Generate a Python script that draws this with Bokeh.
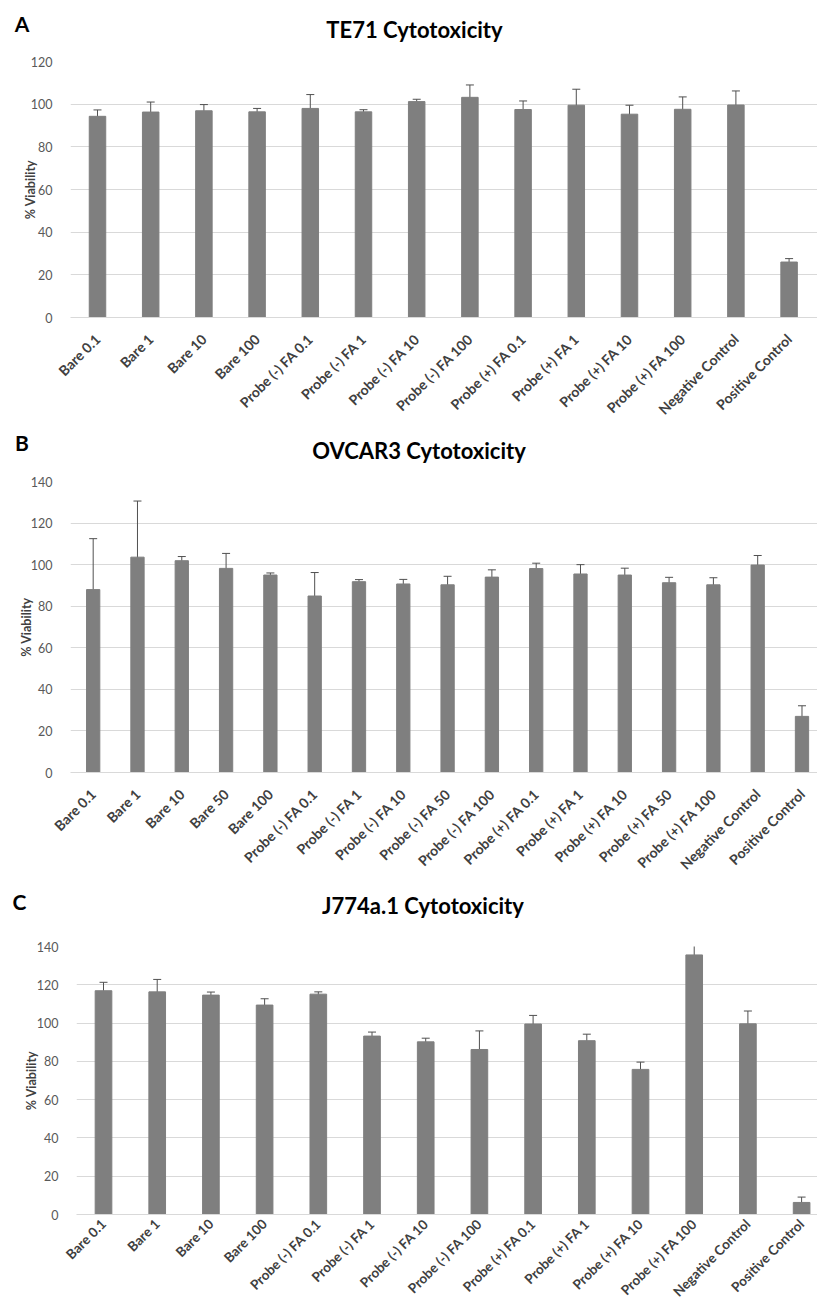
import math
from bokeh.plotting import figure
from bokeh.models import ColumnDataSource, Whisker, TeeHead, Label, Range1d, FixedTicker
from bokeh.embed import file_html
from bokeh.resources import INLINE

# ---------------- data ----------------
A_title = "TE71 Cytotoxicity"
A_cats = ["Bare 0.1", "Bare 1", "Bare 10", "Bare 100",
          "Probe (-) FA 0.1", "Probe (-) FA 1", "Probe (-) FA 10", "Probe (-) FA 100",
          "Probe (+) FA 0.1", "Probe (+) FA 1", "Probe (+) FA 10", "Probe (+) FA 100",
          "Negative Control", "Positive Control"]
A_vals = [94.3, 96.3, 96.9, 96.4, 98.0, 96.4, 101.2, 103.2, 97.5, 99.5, 95.3, 97.6, 99.6, 26.0]
A_err = [3.0, 4.7, 2.9, 1.6, 6.5, 1.0, 1.1, 5.8, 4.0, 7.5, 4.2, 5.8, 6.6, 1.6]
A_yticks = [0, 20, 40, 60, 80, 100, 120]

B_title = "OVCAR3 Cytotoxicity"
B_cats = ["Bare 0.1", "Bare 1", "Bare 10", "Bare 50", "Bare 100",
          "Probe (-) FA 0.1", "Probe (-) FA 1", "Probe (-) FA 10", "Probe (-) FA 50", "Probe (-) FA 100",
          "Probe (+) FA 0.1", "Probe (+) FA 1", "Probe (+) FA 10", "Probe (+) FA 50", "Probe (+) FA 100",
          "Negative Control", "Positive Control"]
B_vals = [88.0, 103.6, 101.9, 98.2, 95.0, 84.9, 91.8, 90.7, 90.3, 94.0, 98.1, 95.5, 95.0, 91.3, 90.3, 99.8, 27.0]
B_err = [24.5, 27.0, 2.0, 7.2, 1.0, 11.3, 1.0, 2.2, 4.1, 3.5, 2.6, 4.5, 3.3, 2.6, 3.4, 4.6, 5.1]
B_yticks = [0, 20, 40, 60, 80, 100, 120, 140]

C_title = "J774a.1 Cytotoxicity"
C_cats = ["Bare 0.1", "Bare 1", "Bare 10", "Bare 100",
          "Probe (-) FA 0.1", "Probe (-) FA 1", "Probe (-) FA 10", "Probe (-) FA 100",
          "Probe (+) FA 0.1", "Probe (+) FA 1", "Probe (+) FA 10", "Probe (+) FA 100",
          "Negative Control", "Positive Control"]
C_vals = [116.9, 116.3, 114.6, 109.4, 115.1, 93.2, 90.2, 86.2, 99.5, 90.8, 75.8, 135.6, 99.6, 6.3]
C_err = [4.4, 6.5, 1.6, 3.3, 1.2, 2.1, 1.9, 9.7, 4.5, 3.4, 3.8, 9.3, 6.7, 2.8]
C_yticks = [0, 20, 40, 60, 80, 100, 120, 140]

Y_LABEL = "% Viability"

FONT = "Lato"
BAR = "#7f7f7f"
ERR = "#505050"
GRID = "#d9d9d9"
W = 817


def header(letter, title, height, letter_xy, title_xy):
    h = figure(width=W, height=height, output_backend="svg", toolbar_location=None,
               x_range=Range1d(0, W), y_range=Range1d(0, height),
               x_axis_location=None, y_axis_location=None,
               min_border=0, outline_line_color=None)
    h.grid.visible = False
    h.add_layout(Label(x=letter_xy[0], y=letter_xy[1], text=letter, text_font=FONT,
                       text_font_style="bold", text_font_size="21px", text_color="black",
                       text_align="center", text_baseline="middle"))
    h.add_layout(Label(x=title_xy[0], y=title_xy[1], text=title, text_font=FONT,
                       text_font_style="bold", text_font_size="22px", text_color="black",
                       text_align="center", text_baseline="middle"))
    return h


def panel(cats, vals, errs, yticks, height, x_start, x_end,
          border_left, border_top, border_bottom, bar_w, ylab_standoff,
          xlab_size, xlab_standoff):
    n = len(cats)
    xs = list(range(n))
    src = ColumnDataSource(dict(
        x=xs, top=vals,
        upper=[v + e for v, e in zip(vals, errs)],
        lower=[v - e for v, e in zip(vals, errs)],
    ))
    p = figure(width=W, height=height, output_backend="svg", toolbar_location=None,
               x_range=Range1d(x_start, x_end), y_range=Range1d(yticks[0], yticks[-1]),
               min_border_left=border_left, min_border_right=0,
               min_border_top=border_top, min_border_bottom=border_bottom)
    p.outline_line_color = None
    p.vbar(x="x", top="top", width=bar_w, bottom=0, source=src,
           fill_color=BAR, line_color=BAR)
    p.add_layout(Whisker(source=src, base="x", upper="upper", lower="lower",
                         line_color=ERR, line_width=1,
                         upper_head=TeeHead(size=8, line_color=ERR, line_width=1),
                         lower_head=TeeHead(size=8, line_color=ERR, line_width=1)))

    # y axis
    p.yaxis.ticker = FixedTicker(ticks=yticks)
    p.yaxis.axis_line_color = None
    p.yaxis.major_tick_line_color = None
    p.yaxis.minor_tick_line_color = None
    p.yaxis.major_label_text_font = FONT
    p.yaxis.major_label_text_font_size = "12.5px"
    p.yaxis.major_label_text_color = "#595959"
    p.yaxis.major_label_standoff = 12
    p.yaxis.axis_label = Y_LABEL
    p.yaxis.axis_label_text_font = FONT
    p.yaxis.axis_label_text_font_style = "bold"
    p.yaxis.axis_label_text_font_size = "12.5px"
    p.yaxis.axis_label_text_color = "#404040"
    p.yaxis.axis_label_standoff = ylab_standoff
    p.ygrid.ticker = FixedTicker(ticks=yticks)
    p.ygrid.grid_line_color = GRID
    p.xgrid.grid_line_color = None

    # x axis
    p.xaxis.ticker = FixedTicker(ticks=xs)
    p.xaxis.major_label_overrides = {i: c for i, c in zip(xs, cats)}
    p.xaxis.major_label_orientation = math.pi / 4
    p.xaxis.axis_line_color = GRID
    p.xaxis.major_tick_line_color = None
    p.xaxis.minor_tick_line_color = None
    p.xaxis.major_label_text_font = FONT
    p.xaxis.major_label_text_font_style = "bold"
    p.xaxis.major_label_text_font_size = xlab_size
    p.xaxis.major_label_text_color = "#404040"
    p.xaxis.major_label_standoff = xlab_standoff
    return p


# panel A: page rows 0-45 (header) and 45-429 (plot)
hA = header("A", A_title, 45, (21.5, 22.5), (414, 16.5))
pA = panel(A_cats, A_vals, A_err, A_yticks, 384, -0.5075, 13.534,
           70, 16, 112, 0.31, -10, "14px", 13)
# panel B: 429-468 header, 468-886 plot
hB = header("B", B_title, 39, (21.5, 26), (418.5, 18))
pB = panel(B_cats, B_vals, B_err, B_yticks, 418, -0.512, 16.35,
           70, 13, 114, 0.30, -6, "14px", 13)
# panel C: 886-926 header, 926-1308 plot
hC = header("C", C_title, 40, (19, 25.5), (422.5, 21))
pC = panel(C_cats, C_vals, C_err, C_yticks, 382, -0.503, 13.296,
           76, 20, 94, 0.31, -5, "13.5px", 1)

open("out.html", "w").write(file_html([hA, pA, hB, pB, hC, pC], INLINE))
